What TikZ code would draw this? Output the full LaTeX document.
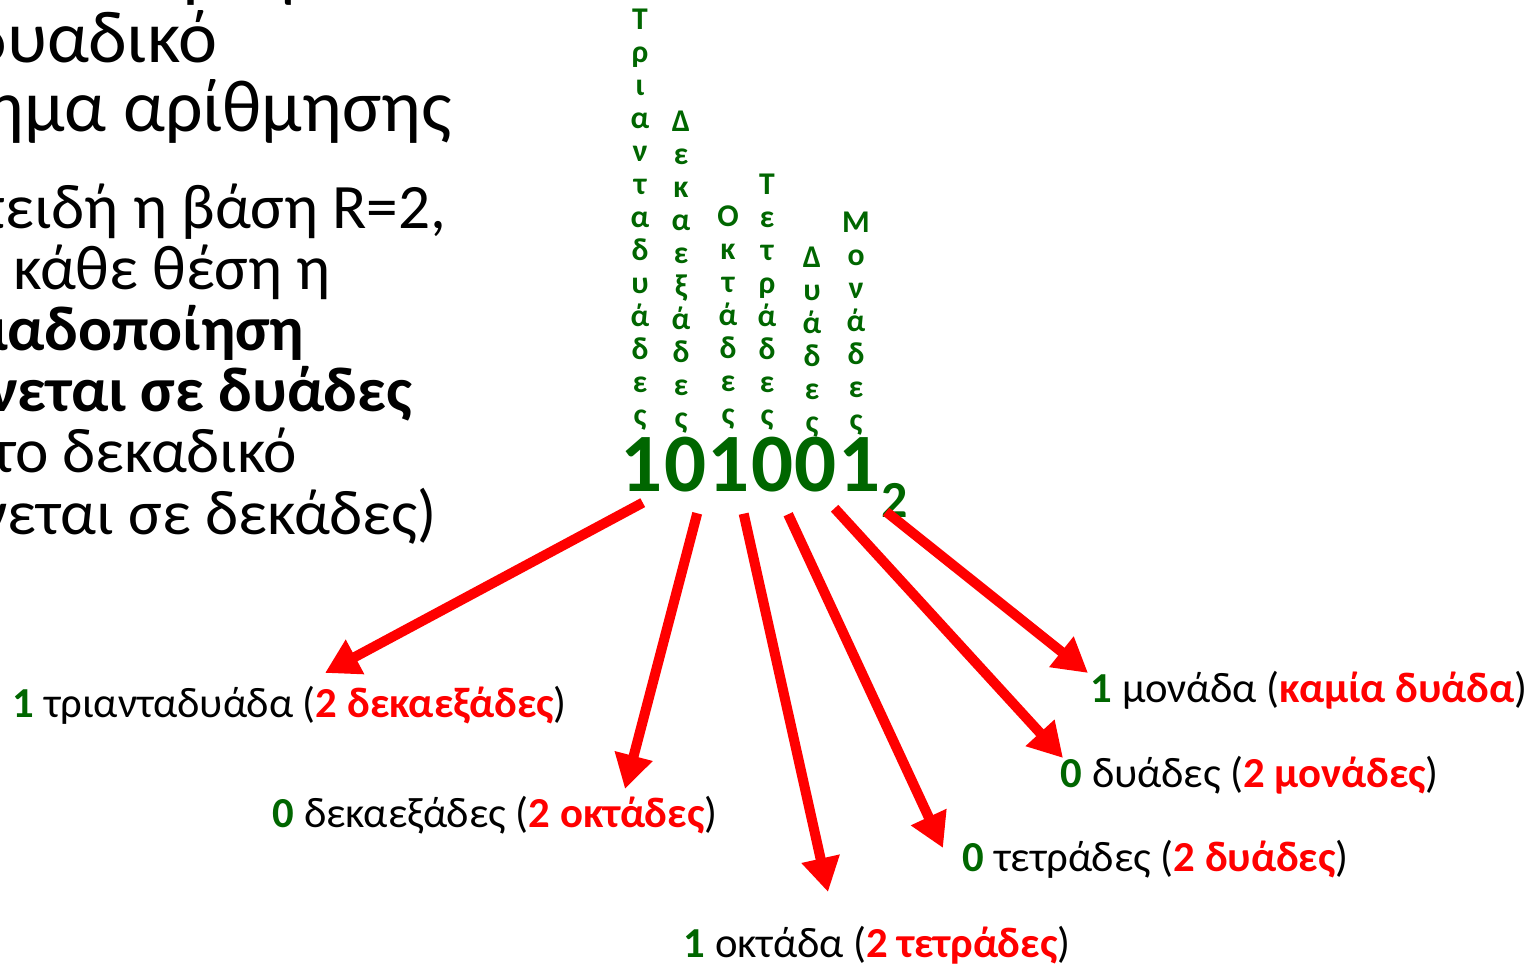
\documentclass[tikz,border=0pt]{standalone}
\usepackage{fontspec}
\setmainfont{Carlito}
\usetikzlibrary{arrows.meta}

\definecolor{bitgreen}{RGB}{0,102,0}
\definecolor{arrowred}{RGB}{255,0,0}

% digit value, place name, regrouped into the next lower place
\newcommand\placetext[3]{{\bfseries\color{bitgreen}#1} #2 ({\bfseries\color{arrowred}#3})}

\begin{document}
\begin{tikzpicture}[x=0.01cm,y=-0.01cm,
    every node/.style={inner sep=0pt},
    titleline/.style={font=\fontsize{21}{21}\selectfont,anchor=base east},
    bodyline/.style={font=\fontsize{18}{18}\selectfont,anchor=base east},
    placecol/.style={font=\fontsize{9}{9.39}\selectfont\bfseries,text=bitgreen,align=center,anchor=north},
    bitdigit/.style={font=\fontsize{23.6}{23.6}\selectfont\bfseries,text=bitgreen,anchor=base west},
    radixsub/.style={font=\fontsize{14.8}{14.8}\selectfont\bfseries,text=bitgreen,anchor=base west},
    placelabel/.style={font=\fontsize{12.15}{12.15}\selectfont,anchor=base west},
    bitarrow/.style={draw=arrowred,line width=2.85pt,-{Triangle[width=10.5pt,length=9.7pt]}}]
  \useasboundingbox (0,0) rectangle (1540,965);
  \clip (0,0) rectangle (1540,965);

% slide text on the left
  \node[titleline,anchor=base west] (head1) at (140,-6) {Αριθμοί στο};
  \node[titleline] (head2) at (218,63)  {Το δυαδικό};
  \node[titleline] (head3) at (452,132) {σύστημα αρίθμησης};

  \node[bodyline] (body1) at (447,229) {Επειδή η βάση R=2,};
  \node[bodyline] (body2) at (331,290) {σε κάθε θέση η};
  \node[bodyline] (body3) at (305,351) {\bfseries ομαδοποίηση};
  \node[bodyline] (body4) at (413,412) {\bfseries γίνεται σε δυάδες};
  \node[bodyline] (body5) at (298,473) {(στο δεκαδικό};
  \node[bodyline] (body6) at (437,535) {γίνεται σε δεκάδες)};

% place names written downwards
  \node[placecol] (col1) at (640,8)   {Τ\\ρ\\ι\\α\\ν\\τ\\α\\δ\\υ\\ά\\δ\\ε\\ς};
  \node[placecol] (col2) at (681,110) {Δ\\ε\\κ\\α\\ε\\ξ\\ά\\δ\\ε\\ς};
  \node[placecol] (col3) at (728,205) {Ο\\κ\\τ\\ά\\δ\\ε\\ς};
  \node[placecol] (col4) at (767,173) {Τ\\ε\\τ\\ρ\\ά\\δ\\ε\\ς};
  \node[placecol] (col5) at (812,246) {Δ\\υ\\ά\\δ\\ε\\ς};
  \node[placecol] (col6) at (856,211) {Μ\\ο\\ν\\ά\\δ\\ε\\ς};

% the binary number, one node per digit
  \node[bitdigit] (d1) at (620,492) {1};
  \node[bitdigit] (d2) at (d1.base east) {0};
  \node[bitdigit] (d3) at (d2.base east) {1};
  \node[bitdigit] (d4) at (d3.base east) {0};
  \node[bitdigit] (d5) at (d4.base east) {0};
  \node[bitdigit] (d6) at (d5.base east) {1};
  \node[radixsub] (radix) at ([shift={(0,26)}]d6.base east) {2};

% what each digit stands for
  \node[placelabel] (p1) at (12,718)   {\placetext{1}{τριανταδυάδα}{2 δεκαεξάδες}};
  \node[placelabel] (p2) at (272,828)  {\placetext{0}{δεκαεξάδες}{2 οκτάδες}};
  \node[placelabel] (p3) at (683,957)  {\placetext{1}{οκτάδα}{2 τετράδες}};
  \node[placelabel] (p4) at (962,872)  {\placetext{0}{τετράδες}{2 δυάδες}};
  \node[placelabel] (p5) at (1060,788) {\placetext{0}{δυάδες}{2 μονάδες}};
  \node[placelabel] (p6) at (1090,703) {\placetext{1}{μονάδα}{καμία δυάδα}};

  \coordinate (t1) at (325,673);
  \coordinate (t2) at (625,789);
  \coordinate (t3) at (828,892);
  \coordinate (t4) at (943,848);
  \coordinate (t5) at (1063,758);
  \coordinate (t6) at (1088,673);

% red arrows from the digits
  \foreach \i/\dx/\dy in {1/1/10, 2/12/20, 3/15/21, 4/16/21, 5/19/15, 6/27/19}
    \draw[bitarrow] ([shift={(\dx,\dy)}]d\i.south) -- (t\i);

\end{tikzpicture}
\end{document}
